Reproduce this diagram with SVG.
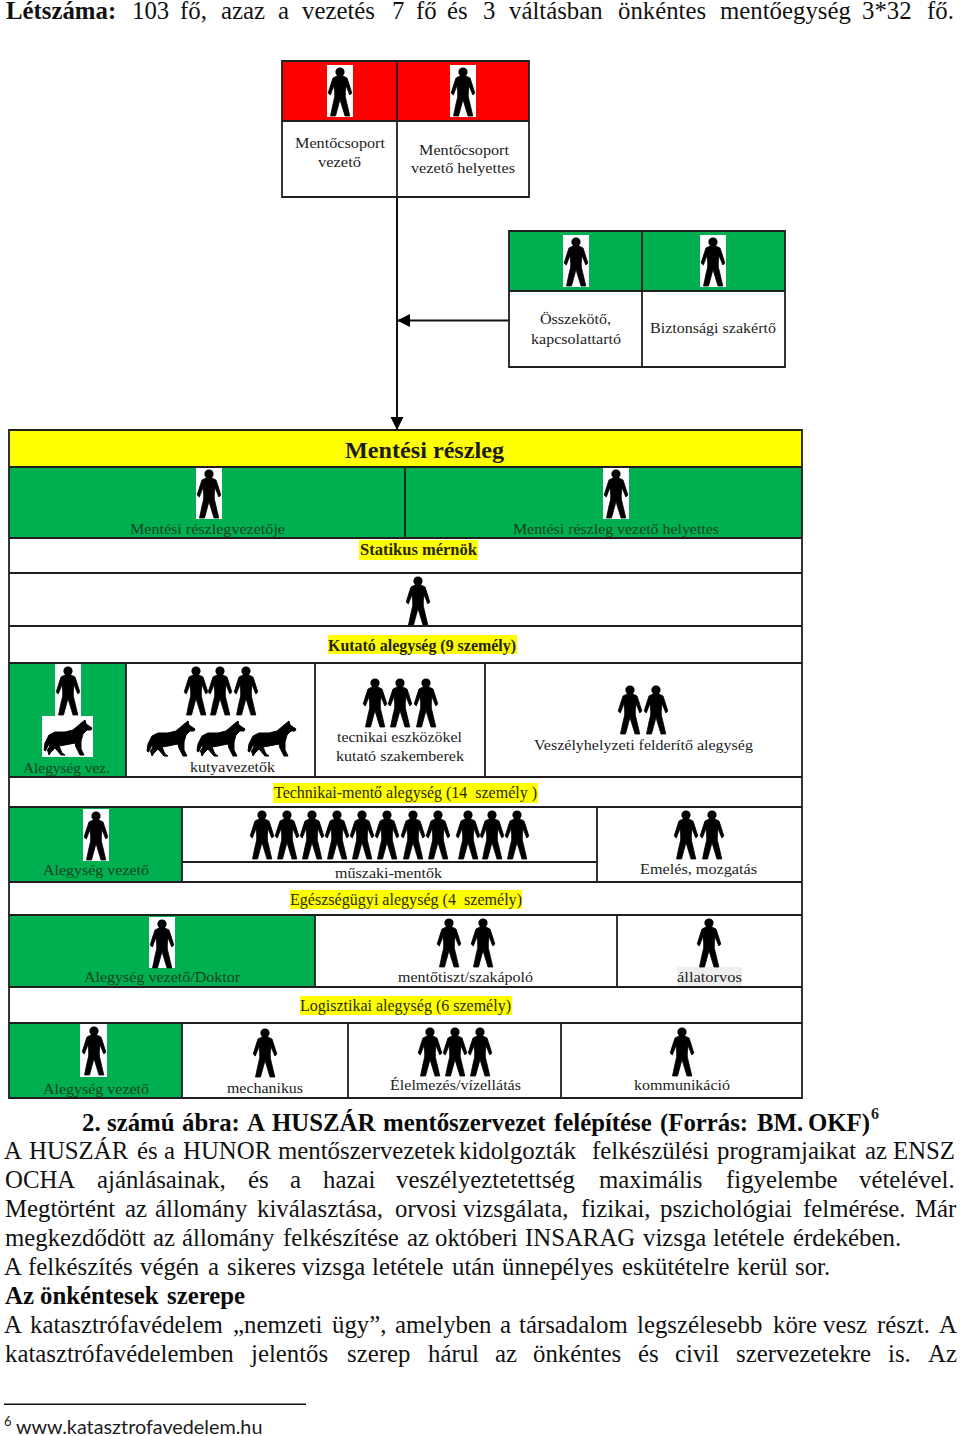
<svg xmlns="http://www.w3.org/2000/svg" width="960" height="1436" viewBox="0 0 960 1436">
<style>
text{font-family:"Liberation Serif","Times New Roman",serif;fill:#1c1c1c}
.b{font-size:24.8px;fill:#111}
.bb{font-size:24.8px;font-weight:bold;fill:#0a0a0a}
.l{font-size:15.5px}
.g{font-size:15.5px;fill:#123f22}
.h{font-size:16px;font-weight:bold;fill:#262600}
.h2{font-size:16px;fill:#2a2a00}
.red{fill:#ff0000}
.grn{fill:#00b050}
.yel{fill:#ffff00}
.w{fill:#fff}
.cell{fill:none;stroke:#1e1e1e;stroke-width:1.800}
.cn{fill:none;stroke:#111;stroke-width:2}
</style>
<defs>
<g id="p"><circle cx="13" cy="6" r="4.600" fill="#000"/><path fill="#000" stroke="#000" stroke-width="0.800" stroke-linejoin="round" d="M10 10L16 10L20 12L22 18L24.800 27L22.800 29L19 19.500L18.300 26L18.300 31L20 38L22.800 50L18 50L13 33.500L8.500 50L3.500 50L6 38L7.700 31L7.700 26L7 19.500L3.300 29L1.200 27L4 18L6 12Z"/></g>
<path id="d" fill="#000" stroke="#000" stroke-width="1" stroke-linejoin="round" d="M42 1L43 5L49 9L48 11L44 11L40 15L38 22L38 30L41 36L37 36L33 28L32 24L22 26L16 27L19 34L22 36L18 36L12 29L8 33L6 36L4.500 31L7 27L6 25L2.500 32L1 31L2 24L6 16L12 13L22 13L30 11L37 5Z"/>
<marker id="ah" markerUnits="userSpaceOnUse" markerWidth="14" markerHeight="14" refX="13" refY="7" orient="auto"><path d="M0 0.500L13 7L0 13.500Z" fill="#000"/></marker>
</defs>
<rect width="960" height="1436" fill="#fff"/>

<g id="connectors">
<path class="cn" d="M397 197V430" marker-end="url(#ah)"/>
<path class="cn" d="M509 320.500H397" marker-end="url(#ah)"/>
</g>

<g id="node-leader">
<rect class="red" x="282" y="61" width="247" height="60"/>
<rect class="w" x="327" y="65" width="26" height="52"/><use href="#p" x="327" y="66"/>
<rect class="w" x="450" y="65" width="26" height="52"/><use href="#p" x="450" y="66"/>
<path class="cell" d="M282 61H529V197H282ZM282 121H529M397 61V197"/>
<text class="l" x="295" y="148" textLength="90" lengthAdjust="spacingAndGlyphs">Mentőcsoport</text>
<text class="l" x="318" y="167" textLength="43" lengthAdjust="spacingAndGlyphs">vezető</text>
<text class="l" x="419" y="155" textLength="90" lengthAdjust="spacingAndGlyphs">Mentőcsoport</text>
<text class="l" x="411" y="173" textLength="104" lengthAdjust="spacingAndGlyphs">vezető helyettes</text>
</g>

<g id="node-liaison">
<rect class="grn" x="509" y="231" width="276" height="60"/>
<rect class="w" x="563" y="235" width="26" height="52"/><use href="#p" x="563" y="236"/>
<rect class="w" x="700" y="235" width="26" height="52"/><use href="#p" x="700" y="236"/>
<path class="cell" d="M509 231H785V367H509ZM509 291H785M642 231V367"/>
<text class="l" x="540" y="324" textLength="71" lengthAdjust="spacingAndGlyphs">Összekötő,</text>
<text class="l" x="531" y="344" textLength="90" lengthAdjust="spacingAndGlyphs">kapcsolattartó</text>
<text class="l" x="650" y="333" textLength="126" lengthAdjust="spacingAndGlyphs">Biztonsági szakértő</text>
</g>

<g id="node-reszleg">
<rect class="yel" x="9" y="430" width="793" height="37"/>
<rect class="grn" x="9" y="467" width="793" height="71"/>
<rect class="w" x="196" y="468" width="26" height="51"/><use href="#p" x="196" y="468"/>
<rect class="w" x="603" y="468" width="26" height="51"/><use href="#p" x="603" y="468"/>
<text x="345" y="458" font-size="24" font-weight="bold" fill="#0a0a0a" textLength="159" lengthAdjust="spacingAndGlyphs">Mentési részleg</text>
<text class="g" x="130" y="534" textLength="155" lengthAdjust="spacingAndGlyphs">Mentési részlegvezetője</text>
<text class="g" x="513" y="534" textLength="206" lengthAdjust="spacingAndGlyphs">Mentési részleg vezető helyettes</text>
</g>

<g id="node-statikus">
<rect class="yel" x="359" y="540" width="119" height="20"/>
<text class="h" x="360" y="555" textLength="117" lengthAdjust="spacingAndGlyphs">Statikus mérnök</text>
<use href="#p" x="405" y="575"/>
</g>

<g id="node-kutato">
<rect class="yel" x="328" y="635" width="189" height="19"/>
<text class="h" x="328" y="651" textLength="188" lengthAdjust="spacingAndGlyphs">Kutató alegység (9 személy)</text>
<rect class="grn" x="9" y="663" width="117" height="114"/>
<rect class="w" x="55" y="664" width="26" height="52"/><use href="#p" x="55" y="665"/>
<rect class="w" x="42" y="716" width="51" height="41"/><use href="#d" x="43" y="719"/>
<text class="g" x="23" y="773" textLength="87" lengthAdjust="spacingAndGlyphs">Alegység vez.</text>
<use href="#p" x="183" y="665"/><use href="#p" x="207" y="665"/><use href="#p" x="233" y="665"/>
<use href="#d" x="146" y="720"/><use href="#d" x="196" y="720"/><use href="#d" x="247" y="720"/>
<text class="l" x="190" y="772" textLength="85" lengthAdjust="spacingAndGlyphs">kutyavezetők</text>
<use href="#p" x="362" y="677"/><use href="#p" x="387" y="677"/><use href="#p" x="413" y="677"/>
<text class="l" x="337" y="742" textLength="125" lengthAdjust="spacingAndGlyphs">tecnikai eszközökel</text>
<text class="l" x="336" y="761" textLength="128" lengthAdjust="spacingAndGlyphs">kutató szakemberek</text>
<use href="#p" x="617" y="684"/><use href="#p" x="643" y="684"/>
<text class="l" x="534" y="750" textLength="219" lengthAdjust="spacingAndGlyphs">Veszélyhelyzeti felderítő alegység</text>
</g>

<g id="node-technikai">
<rect class="yel" x="273" y="783" width="265" height="20"/>
<text class="h2" x="274" y="798" textLength="263" lengthAdjust="spacingAndGlyphs" xml:space="preserve">Technikai-mentő alegység (14  személy )</text>
<rect class="grn" x="9" y="807" width="173" height="75"/>
<rect class="w" x="83" y="809" width="26" height="52"/><use href="#p" x="83" y="810"/>
<text class="g" x="43" y="875" textLength="106" lengthAdjust="spacingAndGlyphs">Alegység vezető</text>
<use href="#p" x="249" y="809"/><use href="#p" x="274" y="809"/><use href="#p" x="299" y="809"/><use href="#p" x="324" y="809"/><use href="#p" x="349" y="809"/><use href="#p" x="374" y="809"/><use href="#p" x="400" y="809"/><use href="#p" x="425" y="809"/><use href="#p" x="455" y="809"/><use href="#p" x="479" y="809"/><use href="#p" x="504" y="809"/>
<text class="l" x="335" y="878" textLength="107" lengthAdjust="spacingAndGlyphs">műszaki-mentők</text>
<use href="#p" x="673" y="809"/><use href="#p" x="699" y="809"/>
<text class="l" x="640" y="874" textLength="117" lengthAdjust="spacingAndGlyphs">Emelés, mozgatás</text>
</g>

<g id="node-egeszsegugyi">
<rect class="yel" x="290" y="890" width="232" height="19"/>
<text class="h2" x="290" y="905" textLength="232" lengthAdjust="spacingAndGlyphs" xml:space="preserve">Egészségügyi alegység (4  személy)</text>
<rect class="grn" x="9" y="915" width="306" height="72"/>
<rect class="w" x="149" y="917" width="26" height="51"/><use href="#p" x="149" y="918"/>
<text class="g" x="84" y="982" textLength="156" lengthAdjust="spacingAndGlyphs">Alegység vezető/Doktor</text>
<use href="#p" x="436" y="917"/><use href="#p" x="470" y="917"/>
<text class="l" x="398" y="982" textLength="135" lengthAdjust="spacingAndGlyphs">mentőtiszt/szakápoló</text>
<rect x="677" y="967" width="65" height="19" fill="#eee"/>
<use href="#p" x="696" y="917"/>
<text class="l" x="677" y="982" textLength="65" lengthAdjust="spacingAndGlyphs">állatorvos</text>
</g>

<g id="node-logisztikai">
<rect class="yel" x="300" y="996" width="212" height="19"/>
<text class="h2" x="300" y="1011" textLength="211" lengthAdjust="spacingAndGlyphs">Logisztikai alegység (6 személy)</text>
<rect class="grn" x="9" y="1023" width="173" height="75"/>
<rect class="w" x="80" y="1024" width="27" height="53"/><use href="#p" x="81" y="1025"/>
<text class="g" x="43" y="1094" textLength="106" lengthAdjust="spacingAndGlyphs">Alegység vezető</text>
<use href="#p" x="252" y="1027"/>
<text class="l" x="227" y="1093" textLength="76" lengthAdjust="spacingAndGlyphs">mechanikus</text>
<use href="#p" x="417" y="1026"/><use href="#p" x="442" y="1026"/><use href="#p" x="467" y="1026"/>
<text class="l" x="390" y="1090" textLength="131" lengthAdjust="spacingAndGlyphs">Élelmezés/vízellátás</text>
<use href="#p" x="669" y="1026"/>
<text class="l" x="634" y="1090" textLength="96" lengthAdjust="spacingAndGlyphs">kommunikáció</text>
</g>

<g id="table-grid">
<path class="cell" d="M9 430H802V1098H9ZM9 467H802M405 467V538M9 538H802M9 573H802M9 626H802M9 663H802M126 663V777M315 663V777M485 663V777M9 777H802M9 807H802M182 807V882M597 807V882M182 862H597M9 882H802M9 915H802M315 915V987M617 915V987M9 987H802M9 1023H802M182 1023V1098M348 1023V1098M561 1023V1098"/>
</g>

<g id="page-text">
<text class="b" y="19"><tspan x="6" font-weight="bold">Létszáma:</tspan> <tspan x="132">103</tspan> <tspan x="180">fő,</tspan> <tspan x="221">azaz</tspan> <tspan x="278">a</tspan> <tspan x="302">vezetés</tspan> <tspan x="392">7</tspan> <tspan x="416">fő</tspan> <tspan x="447">és</tspan> <tspan x="483">3</tspan> <tspan x="509">váltásban</tspan> <tspan x="618">önkéntes</tspan> <tspan x="720">mentőegység</tspan> <tspan x="862">3*32</tspan> <tspan x="927">fő.</tspan></text>
<text class="bb" y="1131"><tspan x="82">2.</tspan> <tspan x="107">számú</tspan> <tspan x="182">ábra:</tspan> <tspan x="247">A</tspan> <tspan x="272">HUSZÁR</tspan> <tspan x="383">mentőszervezet</tspan> <tspan x="554">felépítése</tspan> <tspan x="660">(Forrás:</tspan> <tspan x="757">BM.</tspan> <tspan x="808">OKF)</tspan></text>
<text x="871" y="1119" font-size="16" font-weight="bold" fill="#0a0a0a">6</text>
<text class="b" y="1159"><tspan x="4">A</tspan> <tspan x="29">HUSZÁR</tspan> <tspan x="137">és</tspan> <tspan x="164">a</tspan> <tspan x="183">HUNOR</tspan> <tspan x="278">mentőszervezetek</tspan> <tspan x="459">kidolgozták</tspan> <tspan x="592">felkészülési</tspan> <tspan x="717">programjaikat</tspan> <tspan x="865">az</tspan> <tspan x="893">ENSZ</tspan></text>
<text class="b" y="1188"><tspan x="5">OCHA</tspan> <tspan x="97">ajánlásainak,</tspan> <tspan x="248">és</tspan> <tspan x="290">a</tspan> <tspan x="323">hazai</tspan> <tspan x="396">veszélyeztetettség</tspan> <tspan x="599">maximális</tspan> <tspan x="726">figyelembe</tspan> <tspan x="859">vételével.</tspan></text>
<text class="b" y="1217"><tspan x="5">Megtörtént</tspan> <tspan x="125">az</tspan> <tspan x="155">állomány</tspan> <tspan x="257">kiválasztása,</tspan> <tspan x="395">orvosi</tspan> <tspan x="463">vizsgálata,</tspan> <tspan x="581">fizikai,</tspan> <tspan x="660">pszichológiai</tspan> <tspan x="803">felmérése.</tspan> <tspan x="915">Már</tspan></text>
<text class="b" y="1246"><tspan x="5">megkezdődött</tspan> <tspan x="153">az</tspan> <tspan x="182">állomány</tspan> <tspan x="283">felkészítése</tspan> <tspan x="407">az</tspan> <tspan x="435">októberi</tspan> <tspan x="525">INSARAG</tspan> <tspan x="643">vizsga</tspan> <tspan x="713">letétele</tspan> <tspan x="793">érdekében.</tspan></text>
<text class="b" y="1275"><tspan x="4">A</tspan> <tspan x="28">felkészítés</tspan> <tspan x="140">végén</tspan> <tspan x="208">a</tspan> <tspan x="227">sikeres</tspan> <tspan x="302">vizsga</tspan> <tspan x="372">letétele</tspan> <tspan x="452">után</tspan> <tspan x="502">ünnepélyes</tspan> <tspan x="622">eskütételre</tspan> <tspan x="737">kerül</tspan> <tspan x="795">sor.</tspan></text>
<text class="bb" y="1304"><tspan x="5">Az</tspan> <tspan x="40">önkéntesek</tspan> <tspan x="167">szerepe</tspan></text>
<text class="b" y="1333"><tspan x="4">A</tspan> <tspan x="30">katasztrófavédelem</tspan> <tspan x="233">„nemzeti</tspan> <tspan x="332">ügy”,</tspan> <tspan x="395">amelyben</tspan> <tspan x="500">a</tspan> <tspan x="519">társadalom</tspan> <tspan x="637">legszélesebb</tspan> <tspan x="773">köre</tspan> <tspan x="823">vesz</tspan> <tspan x="877">részt.</tspan> <tspan x="939">A</tspan></text>
<text class="b" y="1362"><tspan x="5">katasztrófavédelemben</tspan> <tspan x="251">jelentős</tspan> <tspan x="347">szerep</tspan> <tspan x="428">hárul</tspan> <tspan x="495">az</tspan> <tspan x="533">önkéntes</tspan> <tspan x="638">és</tspan> <tspan x="675">civil</tspan> <tspan x="736">szervezetekre</tspan> <tspan x="888">is.</tspan> <tspan x="928">Az</tspan></text>
<rect x="4" y="1403.500" width="302" height="1.500" fill="#111"/>
<text x="4" y="1426" font-size="13" style="font-family:Lato,'Open Sans',sans-serif" fill="#111">6</text>
<text x="16" y="1434" font-size="19.800" style="font-family:Lato,'Open Sans',sans-serif" fill="#111">www.katasztrofavedelem.hu</text>
</g>
</svg>
